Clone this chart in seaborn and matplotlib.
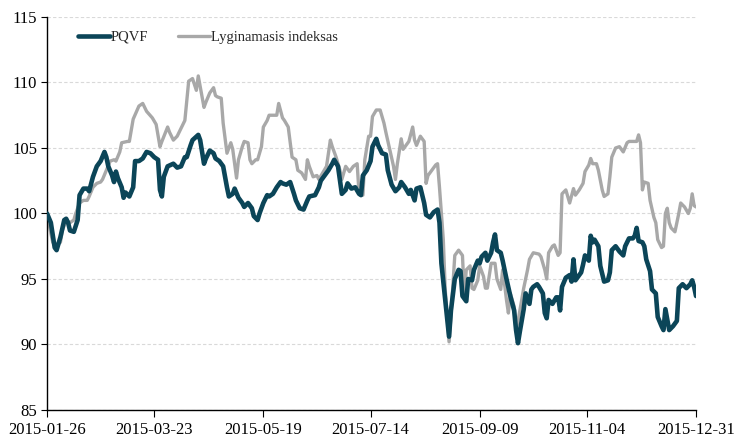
import pandas as pd
import matplotlib
matplotlib.use("Agg")
import matplotlib.pyplot as plt
import matplotlib.dates as mdates
import seaborn as sns

# Values (days counted from 2015-01-26)
START = "2015-01-26"

pqvf_days = [0, 2, 4, 5, 7, 9, 10, 11, 12, 14, 16, 17, 19, 21, 22, 24, 26, 28, 30, 31,
             32, 34, 35, 36, 37, 39, 40, 41, 43, 45, 46, 48, 50, 52, 54, 56, 58, 59, 60, 61,
             63, 66, 68, 70, 72, 73, 75, 76, 79, 80, 82, 83, 85, 87, 88, 90, 92, 94, 95, 97,
             98, 100, 102, 103, 105, 107, 108, 110, 111, 113, 115, 116, 118, 120, 122, 123, 125, 127, 129, 130,
             132, 134, 136, 137, 140, 142, 143, 145, 147, 149, 150, 152, 154, 156, 157, 159, 161, 163, 164, 165,
             167, 169, 170, 172, 173, 175, 177, 178, 180, 182, 184, 185, 187, 189, 190, 192, 193, 195, 197, 198,
             200, 202, 204, 205, 206, 208, 210, 211, 213, 215, 216, 217, 219, 220, 222, 223, 225, 226, 227, 229,
             230, 232, 233, 234, 235, 237, 238, 240, 242, 244, 245, 246, 247, 249, 250, 252, 253, 254, 256, 257,
             259, 260, 261, 262, 264, 266, 267, 268, 269, 271, 273, 274, 275, 276, 277, 279, 280, 281, 283, 284,
             285, 286, 288, 289, 291, 293, 294, 295, 297, 299, 301, 302, 304, 306, 307, 308, 309, 311, 312, 313,
             315, 316, 318, 319, 321, 322, 323, 324, 325, 327, 329, 330, 332, 334, 336, 337, 338, 339]
pqvf_vals = [100.0, 99.3, 97.4, 97.2, 98.2, 99.5, 99.6, 99.3, 98.7, 98.6, 99.5, 101.4, 101.9, 101.9, 101.7, 102.8, 103.6, 104.0, 104.7, 104.3,
             103.6, 102.9, 102.4, 103.2, 102.7, 102.0, 101.2, 101.6, 101.3, 102.0, 104.0, 104.0, 104.2, 104.7, 104.6, 104.3, 104.1, 101.8, 101.3, 102.8,
             103.6, 103.8, 103.5, 103.6, 104.3, 104.3, 105.2, 105.6, 106.0, 105.6, 103.8, 104.2, 104.8, 104.6, 104.2, 104.0, 103.6, 102.0, 101.3, 101.5,
             101.9, 101.2, 100.8, 100.5, 100.8, 100.4, 99.8, 99.5, 100.0, 100.8, 101.4, 101.3, 101.5, 102.0, 102.4, 102.3, 102.2, 102.4, 101.5, 101.0,
             100.4, 100.3, 101.0, 101.3, 101.4, 102.0, 102.5, 102.9, 103.3, 103.8, 104.1, 103.6, 101.5, 101.8, 102.3, 101.9, 102.0, 101.5, 101.4, 102.9,
             103.3, 104.0, 105.1, 105.7, 105.2, 104.6, 104.5, 103.3, 102.2, 101.7, 102.0, 102.4, 102.0, 101.5, 101.8, 101.0, 101.9, 102.0, 100.8, 99.9,
             99.7, 100.1, 100.3, 99.3, 96.2, 93.4, 90.6, 92.6, 95.0, 95.7, 95.6, 93.7, 93.3, 95.0, 94.9, 95.7, 96.4, 96.2, 96.7, 97.0,
             96.4, 97.0, 97.8, 98.4, 97.2, 97.0, 96.4, 95.0, 93.7, 92.6, 91.1, 90.1, 91.0, 92.7, 93.9, 93.1, 94.2, 94.4, 94.6, 94.4,
             93.9, 92.4, 92.0, 93.4, 93.1, 93.6, 93.6, 92.6, 94.4, 95.1, 95.3, 94.8, 96.5, 94.9, 95.1, 95.5, 96.1, 96.8, 96.4, 98.3,
             97.8, 98.0, 97.5, 96.0, 94.8, 94.9, 95.5, 97.2, 97.5, 97.1, 96.8, 97.5, 98.1, 98.1, 98.3, 98.9, 97.9, 97.8, 97.5, 96.5,
             95.6, 94.2, 93.9, 92.1, 91.4, 91.1, 92.7, 91.9, 91.1, 91.4, 91.8, 94.3, 94.6, 94.3, 94.6, 94.9, 94.4, 93.7]

index_days = [0, 2, 3, 5, 7, 8, 10, 12, 14, 15, 17, 19, 21, 22, 24, 26, 28, 29, 31, 33,
              35, 36, 38, 39, 42, 43, 45, 48, 50, 52, 55, 57, 59, 60, 63, 64, 66, 68, 70, 72,
              74, 76, 78, 79, 82, 83, 85, 87, 88, 89, 91, 92, 94, 96, 97, 99, 100, 102, 103, 105,
              106, 107, 109, 110, 112, 113, 115, 116, 118, 120, 121, 123, 124, 126, 128, 130, 131, 133, 135, 136,
              137, 139, 141, 142, 144, 146, 148, 149, 151, 153, 154, 156, 158, 160, 162, 163, 165, 166, 168, 169,
              170, 172, 174, 176, 177, 179, 181, 182, 183, 185, 186, 188, 189, 191, 192, 193, 195, 197, 198, 199,
              201, 203, 204, 205, 207, 208, 210, 211, 213, 215, 217, 218, 219, 221, 222, 223, 225, 226, 228, 229,
              230, 232, 234, 235, 237, 238, 239, 240, 241, 242, 244, 245, 247, 249, 251, 252, 254, 257, 258, 260,
              261, 262, 264, 265, 267, 268, 269, 271, 272, 273, 275, 276, 278, 280, 281, 283, 284, 285, 287, 288,
              290, 291, 293, 294, 295, 297, 299, 301, 303, 304, 306, 308, 309, 310, 311, 312, 314, 315, 317, 318,
              319, 321, 322, 323, 324, 325, 326, 328, 330, 331, 333, 335, 336, 337, 338, 339]
index_vals = [100.0, 98.5, 97.8, 97.6, 97.8, 98.7, 99.5, 99.3, 99.5, 100.0, 100.8, 101.0, 101.0, 101.3, 102.0, 102.3, 102.4, 102.6, 103.3, 104.0,
              104.1, 104.0, 104.7, 105.4, 105.5, 105.5, 107.2, 108.2, 108.4, 107.8, 107.3, 106.8, 105.1, 105.5, 106.6, 106.2, 105.6, 105.9, 106.5, 107.1,
              110.1, 110.3, 109.4, 110.5, 108.1, 108.5, 109.2, 109.6, 109.0, 108.9, 108.8, 106.9, 104.6, 105.4, 104.9, 102.7, 104.1, 105.1, 105.5, 105.4,
              104.1, 103.8, 104.1, 104.1, 105.1, 106.6, 107.1, 107.5, 107.5, 107.5, 108.4, 107.3, 107.1, 106.6, 104.3, 104.1, 103.3, 103.1, 102.6, 104.1,
              103.6, 102.8, 102.9, 102.6, 103.1, 103.6, 105.6, 105.1, 104.3, 103.3, 102.6, 103.6, 103.2, 103.6, 103.8, 101.5, 101.4, 104.1, 105.9, 105.9,
              107.4, 107.9, 107.9, 106.9, 106.2, 104.9, 103.6, 102.6, 103.8, 105.7, 104.9, 105.3, 105.5, 106.6, 105.6, 105.2, 105.9, 105.5, 102.3, 102.9,
              103.3, 103.7, 103.8, 102.0, 98.0, 94.2, 90.2, 92.2, 96.8, 97.2, 96.8, 93.7, 95.7, 96.0, 94.3, 94.2, 94.9, 96.0, 95.2, 94.3,
              94.3, 96.2, 96.2, 95.0, 94.2, 95.7, 94.6, 93.4, 92.4, 93.9, 92.9, 91.0, 92.6, 94.3, 95.7, 96.5, 97.0, 96.9, 96.7, 95.7,
              95.0, 97.0, 97.5, 97.6, 96.8, 97.0, 101.5, 101.8, 101.3, 100.8, 101.9, 101.4, 101.8, 102.3, 103.2, 103.7, 104.2, 103.8, 103.8, 103.3,
              101.8, 101.3, 101.5, 102.8, 104.3, 105.0, 105.1, 104.7, 105.4, 105.5, 105.5, 105.5, 106.0, 105.4, 101.8, 102.4, 102.3, 101.0, 99.7, 99.3,
              98.0, 97.4, 97.5, 100.0, 100.4, 99.3, 98.9, 98.6, 100.0, 100.8, 100.5, 100.0, 100.4, 101.5, 100.6, 100.5]

tick_labels = ["2015-01-26", "2015-03-23", "2015-05-19", "2015-07-14",
               "2015-09-09", "2015-11-04", "2015-12-31"]
y_ticks = [85, 90, 95, 100, 105, 110, 115]

DARK = "#0b4558"
GRAY = "#a8a8a8"


def build_frame():
    base = pd.Timestamp(START)
    a = pd.DataFrame({"date": base + pd.to_timedelta(pqvf_days, unit="D"),
                      "value": pqvf_vals, "series": "PQVF"})
    b = pd.DataFrame({"date": base + pd.to_timedelta(index_days, unit="D"),
                      "value": index_vals, "series": "Lyginamasis indeksas"})
    return pd.concat([a, b], ignore_index=True)


def main():
    df = build_frame()

    sns.set_style("white")
    plt.rcParams["font.family"] = ["Liberation Serif", "DejaVu Serif"]

    fig = plt.figure(figsize=(7.44, 4.40), dpi=100)
    ax = fig.add_axes([0.0632, 0.0682, 0.8723, 0.8932])

    sns.lineplot(data=df[df["series"] == "Lyginamasis indeksas"], x="date", y="value",
                 color=GRAY, linewidth=2.4, ax=ax, label="Lyginamasis indeksas", zorder=2)
    sns.lineplot(data=df[df["series"] == "PQVF"], x="date", y="value",
                 color=DARK, linewidth=3.3, ax=ax, label="PQVF", zorder=3)

    ticks = pd.to_datetime(tick_labels)
    ax.set_xlim(ticks[0], ticks[-1])
    ax.set_xticks(ticks)
    ax.xaxis.set_major_formatter(mdates.DateFormatter("%Y-%m-%d"))
    ax.set_ylim(85, 115)
    ax.set_yticks(y_ticks)
    ax.set_xlabel("")
    ax.set_ylabel("")

    ax.grid(axis="y", color="#d9d9d9", linestyle=(0, (3, 2)), linewidth=0.8)
    ax.grid(axis="x", visible=False)
    for side in ["top", "right"]:
        ax.spines[side].set_visible(False)
    for side in ["left", "bottom"]:
        ax.spines[side].set_color("black")
        ax.spines[side].set_linewidth(1.0)
    ax.tick_params(axis="x", direction="out", length=5, width=0.8, colors="black",
                   labelsize=12, pad=4)
    ax.tick_params(axis="y", direction="out", length=4, width=0.8, colors="black",
                   labelsize=12, pad=3)
    ax.tick_params(bottom=True, left=True)

    handles, labels = ax.get_legend_handles_labels()
    order = [labels.index("PQVF"), labels.index("Lyginamasis indeksas")]
    ax.legend([handles[i] for i in order], [labels[i] for i in order],
              loc="center left", bbox_to_anchor=(0.047, 0.949), ncol=2, frameon=False,
              fontsize=10.5, handlelength=2.2, handletextpad=0.1, columnspacing=2.0,
              borderpad=0, borderaxespad=0)

    fig.savefig("out.png", dpi=100)


if __name__ == "__main__":
    main()
